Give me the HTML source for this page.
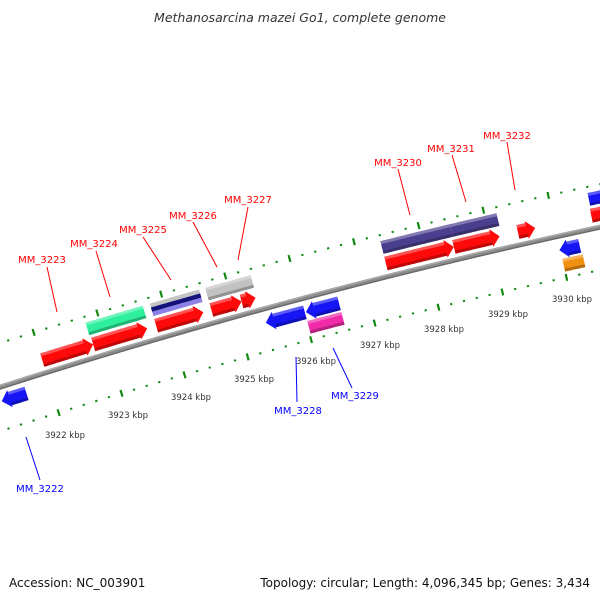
<!DOCTYPE html>
<html><head><meta charset="utf-8"><style>
html,body{margin:0;padding:0;background:#fff;}
svg{display:block;}
text{font-family:"DejaVu Sans","Liberation Sans",sans-serif;}
</style></head><body>
<svg id="s" width="600" height="600" viewBox="0 0 600 600" xmlns="http://www.w3.org/2000/svg">
<rect width="600" height="600" fill="#fff"/>
<text x="300" y="22" text-anchor="middle" font-size="12.5" font-style="italic" fill="#333">Methanosarcina mazei Go1, complete genome</text>
<text x="9" y="587" font-size="12" fill="#111">Accession: NC_003901</text>
<text x="590" y="587" text-anchor="end" font-size="12" fill="#111">Topology: circular; Length: 4,096,345 bp; Genes: 3,434</text>
<g id="g"></g>
</svg>
<script>
const Cx=1905.6,Cy=6328,R=6239;
function P(k,off){const psi=(-17.34+0.6075*(k-3922))*Math.PI/180;const r=R+off;return [Cx+r*Math.sin(psi),Cy-r*Math.cos(psi)];}
const g=document.getElementById('g');let h='';
function pts(a){return a.map(p=>p[0].toFixed(1)+','+p[1].toFixed(1)).join(' ');}
function arc(a,b,o){const n=20,r=[];for(let i=0;i<=n;i++)r.push(P(a+(b-a)*i/n,o));return r;}
function band(a,b,o1,o2,fill,op){const p=arc(a,b,o2).concat(arc(a,b,o1).reverse());h+=`<polygon points="${pts(p)}" fill="${fill}"${op?` fill-opacity="${op}"`:''}/>`;}
function feat(a,b,o1,o2,c,dir){
 const hl=0.13;let p;
 const m=(o1+o2)/2;
 if(dir==1){const e=Math.max(a,b-hl);p=arc(a,e,o2).concat([P(e,o2+2),P(b,m),P(e,o1-2)]).concat(arc(a,e,o1).reverse());
  h+=`<polygon points="${pts(p)}" fill="${c}"/>`;band(a,e,o1,o1+3,'#000',0.25);band(a,e,o2-3,o2,'#fff',0.3);}
 else if(dir==-1){const s=Math.min(b,a+hl);p=[P(a,m),P(s,o2+2)].concat(arc(s,b,o2)).concat(arc(s,b,o1).reverse()).concat([P(s,o1-2)]);
  h+=`<polygon points="${pts(p)}" fill="${c}"/>`;band(s,b,o1,o1+3,'#000',0.25);band(s,b,o2-3,o2,'#fff',0.3);}
 else{band(a,b,o1,o2,c);band(a,b,o1,o1+3,'#000',0.25);band(a,b,o2-3,o2,'#fff',0.3);}
}
// backbone
h+=`<polyline points="${pts(arc(3920,3932.5,0))}" fill="none" stroke="#8c8c8c" stroke-width="5"/>`;
h+=`<polyline points="${pts(arc(3920,3932.5,-1.8))}" fill="none" stroke="#6a6a6a" stroke-width="1.4"/>`;
h+=`<polyline points="${pts(arc(3920,3932.5,1.6))}" fill="none" stroke="#b0b0b0" stroke-width="1"/>`;
// ticks
for(let i=0;i<=70;i++){const k=3920.6+i*0.2;const kr=Math.round(k*5)/5;const major=Math.abs(kr-Math.round(kr))<1e-6;
 for(const o of [42,-42]){const l=major?3.5:1;const A=P(kr,o-l),B=P(kr,o+l);
 h+=`<line x1="${A[0].toFixed(1)}" y1="${A[1].toFixed(1)}" x2="${B[0].toFixed(1)}" y2="${B[1].toFixed(1)}" stroke="#128a12" stroke-width="2.2"/>`;}}
// kbp labels
[[3922,65,438],[3923,128,418],[3924,191,400],[3925,254,382],[3926,316,364],[3927,380,348],[3928,444,332],[3929,508,317],[3930,572,302]].forEach(t=>{
 h+=`<text x="${t[1]}" y="${t[2]}" text-anchor="middle" font-size="8.5" fill="#333">${t[0]} kbp</text>`;});
// features
const RED='#ff0a0a',BLUE='#1515f5';
const k=x=>3922+(x-43)/63.5, k2=x=>3922+(x-38)/63.5, kr=x=>3922+(x-51)/63.5;
feat(k(43),k(94),6,20,RED,1);feat(k(94),k(148),6,20,RED,1);feat(k(157),k(204),6,20,RED,1);
feat(k(212),k(242),6,20,RED,1);feat(k(242),k(256),6,20,RED,1);feat(k(385),k(452),6,20,RED,1);
feat(k(452),k(497),6,20,RED,1);feat(k(515),k(532),6,20,RED,1);feat(k(587),k(625),6,20,RED,1);
feat(k2(88),k2(145),23,36,'#2ef09c',0);
band(k2(152),k2(201),32,36,'#c4c4c4');band(k2(152),k2(201),27.5,32,'#12127a');band(k2(152),k2(201),23,27.5,'#8a80e6');
feat(k2(207),k2(252),23,36,'#c2c2c2',0);
feat(k2(380),k2(448),23,36,'#4a3f8e',0);feat(k2(448),k2(494),23,36,'#4a3f8e',0);
feat(k2(583),k2(625),23,36,BLUE,0);
feat(kr(2),kr(27),-21,-7,BLUE,-1);feat(kr(267),kr(306),-21,-7,BLUE,-1);feat(kr(307),kr(340),-21,-7,BLUE,-1);
feat(kr(558),kr(578),-21,-7,BLUE,-1);
feat(kr(306),kr(340),-36,-23,'#f02aa8',0);feat(kr(559),kr(579),-36,-23,'#f29010',0);
// labels
const L=[['MM_3223',42,263,47,267,57,312,'#f00'],['MM_3224',94,247,96,251,110,297,'#f00'],['MM_3225',143,233,143,237,171,280,'#f00'],
['MM_3226',193,219,193,222,217,267,'#f00'],['MM_3227',248,203,248,207,238,260,'#f00'],['MM_3230',398,166,398,169,410,215,'#f00'],
['MM_3231',451,152,452,155,466,202,'#f00'],['MM_3232',507,139,507,142,515,190,'#f00'],
['MM_3222',40,492,26,437,40,480,'#00f'],['MM_3228',298,414,296,357,297,402,'#00f'],['MM_3229',355,399,333,348,352,388,'#00f']];
L.forEach(l=>{h+=`<line x1="${l[3]}" y1="${l[4]}" x2="${l[5]}" y2="${l[6]}" stroke="${l[7]}" stroke-width="1"/>`;
 h+=`<text x="${l[1]}" y="${l[2]}" text-anchor="middle" font-size="10" fill="${l[7]}">${l[0]}</text>`;});
g.innerHTML=h;
</script>
</body></html>
